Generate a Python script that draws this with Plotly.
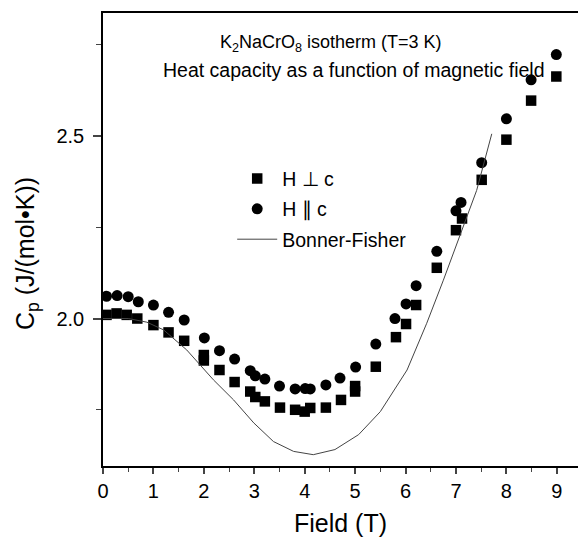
import plotly.graph_objects as go

# H perpendicular c (squares)
field_perp = [0.07, 0.27, 0.47, 0.68, 1.0, 1.3, 1.61, 2.0, 2.0, 2.31, 2.61, 2.92, 3.02, 3.21,
              3.51, 3.81, 4.0, 4.11, 4.42, 4.72, 5.0, 5.0, 5.41, 5.81, 6.01, 6.21, 6.62,
              7.0, 7.12, 7.51, 8.0, 8.49, 8.99]
cp_perp = [2.01, 2.014, 2.01, 2.0, 1.982, 1.962, 1.939, 1.90, 1.885, 1.859, 1.826, 1.80, 1.785,
           1.773, 1.756, 1.75, 1.745, 1.755, 1.756, 1.777, 1.815, 1.80, 1.868, 1.949, 1.985,
           2.037, 2.139, 2.242, 2.274, 2.38, 2.49, 2.597, 2.663]

# H parallel c (circles)
field_par = [0.07, 0.28, 0.5, 0.70, 1.0, 1.3, 1.61, 2.01, 2.31, 2.61, 2.92, 3.02, 3.21, 3.5,
             3.81, 4.01, 4.11, 4.42, 4.70, 5.01, 5.41, 5.79, 6.01, 6.21, 6.62, 7.0, 7.10,
             7.51, 8.0, 8.49, 8.99]
cp_par = [2.061, 2.063, 2.06, 2.046, 2.037, 2.017, 1.996, 1.947, 1.912, 1.889, 1.857, 1.843,
          1.834, 1.815, 1.807, 1.808, 1.807, 1.818, 1.837, 1.867, 1.93, 2.0, 2.04, 2.09, 2.184,
          2.295, 2.318, 2.427, 2.547, 2.654, 2.723]

# Bonner-Fisher model curve
field_bf = [0, 0.5, 0.87, 1.2, 1.66, 2.19, 2.59, 2.99, 3.38, 3.78, 4.17, 4.6, 5.07, 5.5,
            6.03, 6.42, 6.75, 7.12, 7.41, 7.71]
cp_bf = [2.0, 2.0, 1.99, 1.969, 1.914, 1.832, 1.777, 1.714, 1.663, 1.636, 1.627, 1.641,
         1.682, 1.745, 1.859, 1.987, 2.105, 2.242, 2.351, 2.506]

FONT = "Liberation Sans, Arial, Helvetica, sans-serif"

fig = go.Figure()
fig.add_trace(go.Scatter(x=field_perp, y=cp_perp, mode="markers", name="H ⊥ c",
                         legendgroup="a",
                         marker=dict(symbol="square", size=10.5, color="black")))
fig.add_trace(go.Scatter(x=field_par, y=cp_par, mode="markers", name="H ∥ c",
                         legendgroup="b",
                         marker=dict(symbol="circle", size=11, color="black")))
fig.add_trace(go.Scatter(x=field_bf, y=cp_bf, mode="lines", name="Bonner-Fisher",
                         legendgroup="c",
                         line=dict(color="#444444", width=1)))

fig.update_layout(
    width=580, height=538,
    margin=dict(l=103, r=2, t=13, b=72),
    paper_bgcolor="white", plot_bgcolor="white",
    font=dict(family=FONT, color="black"),
    showlegend=True,
    legend=dict(x=0.272, y=0.677, xanchor="left", yanchor="top",
                bgcolor="rgba(0,0,0,0)", font=dict(size=19.5, family=FONT),
                tracegroupgap=2, traceorder="grouped", itemwidth=40),
    xaxis=dict(range=[0, 9.42], dtick=1, tick0=0, ticks="outside", ticklen=6,
               tickwidth=1.5, showline=True, linecolor="black", linewidth=1.5,
               mirror=True, showgrid=False, zeroline=False,
               tickfont=dict(size=20),
               title=dict(text="Field (T)", font=dict(size=25), standoff=14),
               minor=dict(dtick=0.5, ticks="outside", ticklen=4, tickwidth=1.2)),
    yaxis=dict(range=[1.596, 2.837], dtick=0.5, tick0=2.0, ticks="outside", ticklen=8,
               tickwidth=1.5, showline=True, linecolor="black", linewidth=1.5,
               showgrid=False, zeroline=False, tickformat=".1f",
               tickfont=dict(size=20), ticklabelstandoff=5,
               minor=dict(dtick=0.25, ticks="outside", ticklen=5, tickwidth=1.2)),
    annotations=[
        dict(text="K<sub>2</sub>NaCrO<sub>8</sub> isotherm (T=3 K)", x=331, y=43,
             showarrow=False, font=dict(size=18)),
        dict(text="Heat capacity as a function of magnetic field", x=354, y=70,
             showarrow=False, font=dict(size=19.5)),
        dict(text="C<sub>p</sub> (J/(mol•K))", x=27, y=254, textangle=-90,
             showarrow=False, font=dict(size=25)),
    ],
)

# convert annotation pixel positions (page coordinates) to paper coordinates
L, R, T, B = 103, 578, 13, 466
for a in fig.layout.annotations:
    a.x = (a.x - L) / (R - L)
    a.y = (B - a.y) / (B - T)
    a.xref = "paper"
    a.yref = "paper"
    a.xanchor = "center"
    a.yanchor = "middle"

fig.write_html("out.html")
